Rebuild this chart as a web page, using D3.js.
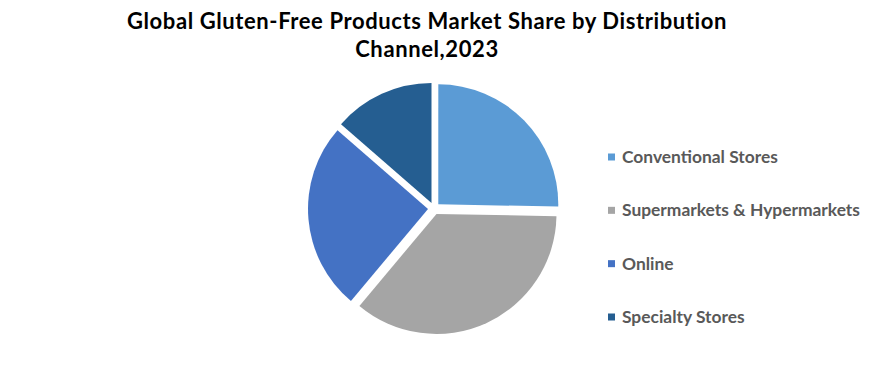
<!DOCTYPE html>
<html><head><meta charset="utf-8">
<script src="https://cdn.jsdelivr.net/npm/d3@7"></script>
<style>body{margin:0;background:#fff;} svg{display:block;}</style>
</head><body>
<svg id="chart" width="894" height="389"></svg>
<script>
const categories = ["Conventional Stores", "Supermarkets & Hypermarkets", "Online", "Specialty Stores"];
const shares = [25.3, 35.8, 25.3, 13.6];
const colors = ["#5B9BD5", "#A5A5A5", "#4472C4", "#255E91"];
const titleLines = ["Global Gluten-Free Products Market Share by Distribution", "Channel,2023"];

const svg = d3.select("#chart");
const cx = 434, cy = 208.5, r = 120, explode = 6;

const data = categories.map((c, i) => ({name: c, value: shares[i], color: colors[i]}));
const pie = d3.pie().sort(null).value(d => d.value);
const arc = d3.arc().innerRadius(0).outerRadius(r);

const g = svg.append("g").attr("transform", `translate(${cx},${cy})`);
g.selectAll("path").data(pie(data)).join("path")
  .attr("d", arc)
  .attr("fill", d => d.data.color)
  .attr("transform", d => {
    const a = (d.startAngle + d.endAngle) / 2;
    return `translate(${explode * Math.sin(a)},${-explode * Math.cos(a)})`;
  });

svg.selectAll("text.title").data(titleLines).join("text")
  .attr("class", "title")
  .attr("x", 427).attr("y", (d, i) => 29 + i * 28)
  .attr("text-anchor", "middle")
  .attr("font-family", "Lato, 'Open Sans', sans-serif")
  .attr("font-weight", "bold")
  .attr("font-size", 22)
  .attr("letter-spacing", 0.6)
  .attr("fill", "#000")
  .text(d => d);

const legendY = d3.scalePoint().domain(categories).range([157, 317]);
const lg = svg.append("g");
const items = lg.selectAll("g").data(data).join("g")
  .attr("transform", d => `translate(608,${legendY(d.name)})`);
items.append("rect").attr("x", 0).attr("y", -3.5).attr("width", 7).attr("height", 7)
  .attr("fill", d => d.color);
items.append("text").attr("x", 14).attr("y", 0).attr("dy", "0.35em")
  .attr("font-family", "Lato, 'Open Sans', sans-serif")
  .attr("font-weight", "bold")
  .attr("font-size", 17.4)
  .attr("fill", "#595959")
  .text(d => d.name);
</script>
</body></html>
